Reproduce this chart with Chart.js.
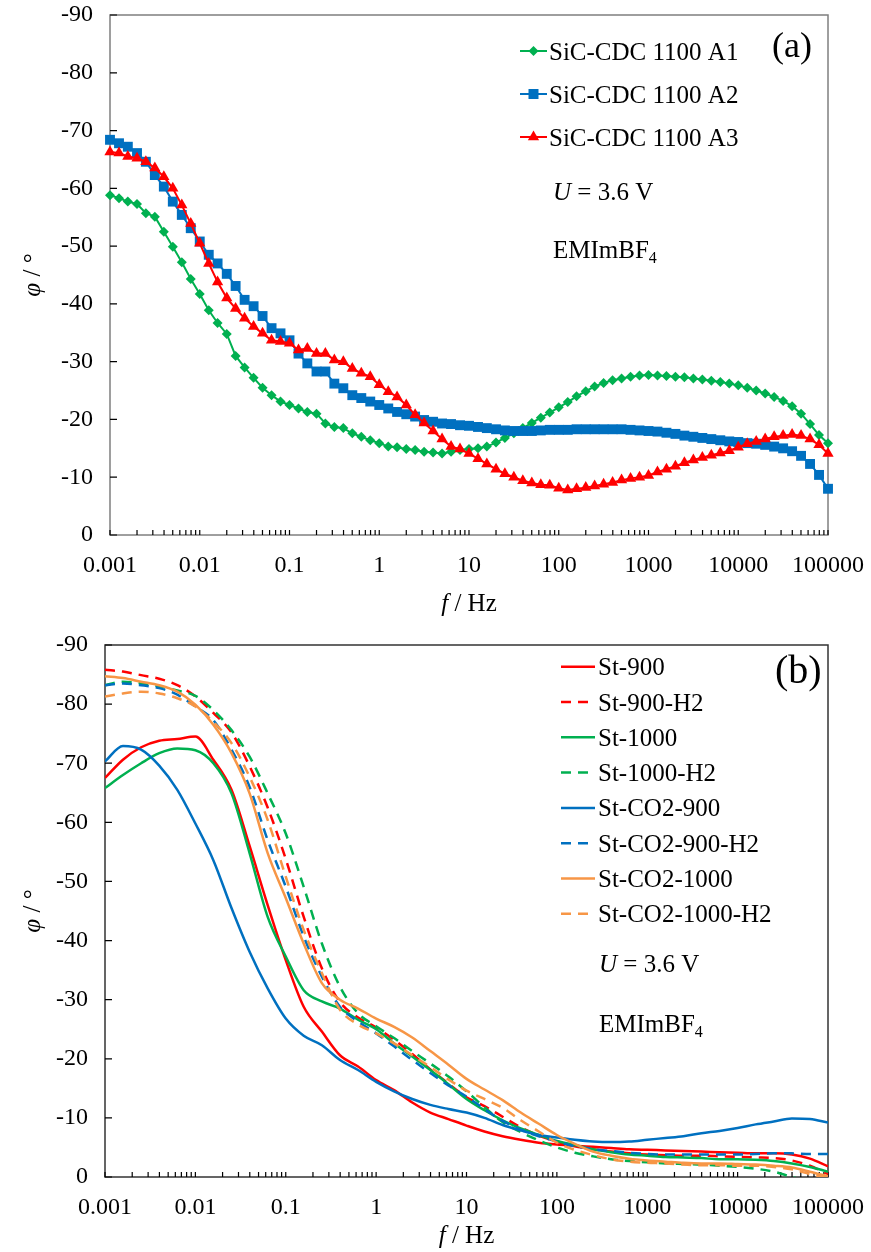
<!DOCTYPE html>
<html><head><meta charset="utf-8">
<script src="https://cdn.jsdelivr.net/npm/chart.js@4.4.1/dist/chart.umd.min.js"></script>
<style>
html,body{margin:0;padding:0;background:#fff;}
#wrap{position:relative;width:871px;height:1252px;}
canvas{display:block;}
</style></head><body>
<div id="wrap">
<canvas id="ca" width="871" height="626"></canvas>
<canvas id="cb" width="871" height="626"></canvas>
</div>
<script>
// ---------- tick labels ----------
const xTickLabels = ['0.001','0.01','0.1','1','10','100','1000','10000','100000'];
const xMinorMantissas = [1,2,3,4,5,6,7,8,9];
const yTickValues = [-90,-80,-70,-60,-50,-40,-30,-20,-10,0];
const yTickLabels = ['-90','-80','-70','-60','-50','-40','-30','-20','-10','0'];

// ---------- chart (a) ----------
const freqA = [0.001,0.00126,0.00158,0.002,0.00251,0.00316,0.00398,0.00501,0.00631,0.00794,
  0.01,0.0126,0.0158,0.02,0.0251,0.0316,0.0398,0.0501,0.0631,0.0794,
  0.1,0.126,0.158,0.2,0.251,0.316,0.398,0.501,0.631,0.794,
  1,1.26,1.58,2,2.51,3.16,3.98,5.01,6.31,7.94,
  10,12.6,15.8,20,25.1,31.6,39.8,50.1,63.1,79.4,
  100,126,158,200,251,316,398,501,631,794,
  1000,1259,1585,1995,2512,3162,3981,5012,6310,7943,
  10000,12589,15849,19953,25119,31623,39811,50119,63096,79433,
  100000];
const sicA1 = [-58.8,-58.3,-57.7,-57.3,-55.7,-55.1,-52.5,-49.9,-47.2,-44.3,
  -41.7,-38.9,-36.7,-34.8,-31.0,-29.0,-27.2,-25.5,-24.2,-23.1,
  -22.5,-21.9,-21.3,-21.0,-19.3,-18.7,-18.5,-17.6,-17.0,-16.4,
  -15.9,-15.3,-15.2,-14.9,-14.7,-14.4,-14.3,-14.1,-14.4,-14.7,
  -14.9,-15.0,-15.3,-16.0,-16.8,-17.6,-18.5,-19.4,-20.3,-21.2,
  -22.1,-23.0,-24.0,-24.9,-25.7,-26.3,-26.8,-27.1,-27.4,-27.6,
  -27.7,-27.6,-27.5,-27.4,-27.3,-27.1,-26.9,-26.7,-26.5,-26.2,
  -25.9,-25.5,-25.0,-24.5,-23.9,-23.2,-22.3,-21.0,-19.2,-17.3,
  -15.9];
const sicA2 = [-68.4,-67.8,-67.2,-66.1,-64.6,-62.3,-60.3,-57.7,-55.4,-53.1,
  -50.8,-48.5,-47.0,-45.2,-43.1,-40.7,-39.6,-37.9,-35.8,-34.9,
  -33.7,-31.4,-29.7,-28.3,-28.3,-26.2,-25.4,-24.2,-23.7,-23.1,
  -22.5,-21.9,-21.3,-20.9,-20.5,-19.9,-19.6,-19.3,-19.2,-19.0,
  -18.9,-18.7,-18.5,-18.3,-18.1,-18.0,-18.0,-18.0,-18.1,-18.2,
  -18.2,-18.2,-18.3,-18.3,-18.3,-18.3,-18.3,-18.3,-18.2,-18.1,
  -18.0,-17.9,-17.7,-17.5,-17.2,-17.0,-16.8,-16.6,-16.4,-16.2,
  -16.1,-15.9,-15.8,-15.6,-15.3,-15.0,-14.5,-13.7,-12.3,-10.4,
  -8.0];
const sicA3 = [-66.3,-66.1,-65.5,-65.2,-64.6,-63.5,-62.0,-60.0,-57.1,-53.9,
  -50.5,-47.0,-43.8,-41.0,-39.2,-37.5,-36.1,-34.9,-33.7,-33.5,
  -33.2,-32.0,-32.3,-31.4,-31.4,-30.3,-30.0,-28.8,-28.0,-27.4,
  -26.0,-24.8,-23.9,-22.5,-20.8,-19.4,-18.0,-16.6,-15.3,-14.9,
  -14.1,-13.2,-12.3,-11.4,-10.6,-10.0,-9.4,-9.0,-8.7,-8.6,
  -8.1,-7.8,-8.0,-8.2,-8.5,-8.8,-9.1,-9.5,-9.8,-10.0,
  -10.3,-10.9,-11.4,-11.9,-12.5,-13.0,-13.4,-13.8,-14.2,-14.6,
  -15.2,-15.8,-16.2,-16.6,-17.0,-17.2,-17.4,-17.2,-16.6,-15.6,
  -14.1];
const seriesNamesA = ['SiC-CDC 1100 A1','SiC-CDC 1100 A2','SiC-CDC 1100 A3'];

// ---------- chart (b) ----------
const freqB = [0.001,0.00158,0.00251,0.00398,0.00631, 0.01,0.0158,0.0251,0.0398,0.0631,
  0.1,0.158,0.251,0.398,0.631, 1,1.58,2.51,3.98,6.31,
  10,15.8,25.1,39.8,63.1, 100,158,251,398,631,
  1000,1585,2512,3981,6310, 10000,15849,25119,39811,63096, 100000];
const st900 = [-67.5,-70.6,-72.7,-73.8,-74.1, -74.5,-70.6,-65.5,-56.0,-46.0,
  -36.7,-28.8,-24.6,-20.6,-18.7, -16.4,-14.7,-12.6,-10.9,-9.8,
  -8.7,-7.7,-6.9,-6.3,-5.8, -5.5,-5.3,-5.1,-4.9,-4.7,
  -4.6,-4.5,-4.4,-4.3,-4.2, -4.1,-4.0,-4.0,-3.8,-3.1, -1.8];
const st900H2 = [-85.8,-85.5,-84.9,-84.3,-83.2, -81.3,-78.5,-75.2,-69.5,-62.5,
  -53.8,-44.0,-35.3,-29.6,-27.0, -25.3,-23.2,-20.8,-18.2,-15.8,
  -13.5,-12.0,-10.2,-8.4,-7.0, -6.0,-5.2,-4.7,-4.3,-4.0,
  -3.8,-3.7,-3.6,-3.6,-3.5, -3.4,-3.3,-3.2,-2.8,-1.9, -0.5];
const st1000 = [-65.8,-68.0,-70.0,-71.7,-72.5, -72.2,-70.0,-64.9,-54.8,-44.0,
  -37.3,-31.6,-29.7,-28.5,-26.6, -25.0,-22.6,-20.4,-18.1,-15.7,
  -13.2,-11.3,-9.6,-8.2,-7.1, -6.1,-5.4,-4.7,-4.2,-3.8,
  -3.6,-3.4,-3.3,-3.2,-3.0, -3.0,-2.9,-2.7,-2.3,-1.7, -0.9];
const st1000H2 = [-83.2,-83.8,-83.5,-83.0,-82.3, -81.4,-79.0,-75.6,-71.1,-64.9,
  -58.1,-49.1,-39.5,-32.2,-27.7, -25.5,-23.5,-21.3,-19.2,-17.0,
  -14.5,-11.8,-9.3,-7.6,-6.2, -5.0,-4.1,-3.5,-3.0,-2.7,
  -2.5,-2.3,-2.2,-2.1,-1.9, -1.7,-1.4,-0.9,0.0,0.8, 1.5];
const stCO2900 = [-70.3,-72.9,-72.3,-69.6,-65.5, -59.8,-53.6,-45.5,-38.1,-31.9,
  -26.8,-23.9,-22.3,-19.8,-18.1, -16.1,-14.5,-13.2,-12.2,-11.5,
  -10.9,-10.0,-8.8,-7.9,-7.1, -6.7,-6.3,-6.0,-5.9,-6.0,
  -6.3,-6.6,-6.9,-7.4,-7.8, -8.3,-8.9,-9.4,-9.9,-9.8, -9.2];
const stCO2900H2 = [-83.2,-83.5,-83.2,-82.7,-81.6, -79.6,-77.3,-72.3,-66.0,-57.0,
  -49.1,-40.7,-33.9,-28.8,-26.3, -24.3,-22.1,-19.8,-17.6,-15.5,
  -13.6,-11.5,-9.5,-8.0,-6.9, -6.0,-5.2,-4.7,-4.4,-4.1,
  -3.9,-3.8,-3.8,-3.8,-3.8, -3.8,-3.9,-4.0,-4.0,-3.9, -3.9];
const stCO21000 = [-84.7,-84.4,-83.8,-83.2,-82.1, -79.9,-76.5,-71.7,-64.9,-54.8,
  -47.2,-39.5,-32.8,-30.0,-28.5, -26.8,-25.4,-23.6,-21.3,-19.0,
  -16.6,-14.8,-13.0,-10.9,-9.0, -7.1,-5.6,-4.3,-3.6,-3.1,
  -2.8,-2.6,-2.4,-2.3,-2.3, -2.2,-2.1,-1.9,-1.6,-0.9, -0.1];
const stCO21000H2 = [-81.3,-81.8,-82.1,-81.8,-81.0, -79.6,-77.0,-73.4,-67.7,-60.4,
  -50.8,-41.8,-34.5,-28.3,-25.8, -24.3,-22.6,-20.6,-18.6,-16.5,
  -14.6,-13.2,-11.7,-9.6,-7.7, -5.8,-4.6,-3.7,-3.0,-2.6,
  -2.4,-2.3,-2.1,-2.0,-2.0, -1.9,-1.9,-1.7,-1.3,-0.5, 0.2];
const seriesNamesB = ['St-900','St-900-H2','St-1000','St-1000-H2','St-CO2-900','St-CO2-900-H2','St-CO2-1000','St-CO2-1000-H2'];

// ---------- styling ----------
const SERIF = '"Liberation Serif", "Times New Roman", serif';
const GREEN = '#00B050', BLUE = '#0070C0', RED = '#FF0000', ORANGE = '#F79646';
const font = (size, italic) => (italic ? 'italic ' : '') + size + 'px ' + SERIF;

function buildLogTicks(scale) {
  const ticks = [];
  xTickLabels.forEach((lab, i) => {
    const dec = Number(lab);
    if (i === xTickLabels.length - 1) { ticks.push({value: dec}); return; }
    xMinorMantissas.forEach(m => ticks.push({value: +(m * dec).toPrecision(6)}));
  });
  scale.ticks = ticks;
}
function xLabel(v) {
  const idx = xTickLabels.findIndex(l => Math.abs(Number(l) - v) < Number(l) * 1e-6);
  return idx >= 0 ? xTickLabels[idx] : '';
}
function yLabel(v) {
  const idx = yTickValues.indexOf(Math.round(v));
  return idx >= 0 ? yTickLabels[idx] : '';
}
function noOverflow(s) { s.paddingLeft = 0; s.paddingRight = 0; s.paddingTop = 0; s.paddingBottom = 0; }

function drawParts(ctx, parts, x, y, align) {
  let total = 0;
  const ws = parts.map(p => { ctx.font = p.f; const w = ctx.measureText(p.t).width; total += w; return w; });
  let cx = align === 'center' ? x - total / 2 : x;
  parts.forEach((p, i) => { ctx.font = p.f; ctx.fillText(p.t, cx, y + (p.dy || 0)); cx += ws[i]; });
}

function marker(ctx, style, x, y, color) {
  ctx.fillStyle = color;
  ctx.beginPath();
  if (style === 'rectRot') { const r = 5; ctx.moveTo(x - r, y); ctx.lineTo(x, y - r); ctx.lineTo(x + r, y); ctx.lineTo(x, y + r); }
  else if (style === 'rect') { const s = 5; ctx.rect(x - s, y - s, 2 * s, 2 * s); }
  else if (style === 'triangle') { const r = 6.5; ctx.moveTo(x, y - r); ctx.lineTo(x + r * 0.866, y + r / 2); ctx.lineTo(x - r * 0.866, y + r / 2); }
  ctx.closePath(); ctx.fill();
}

function decorPlugin(cfg) {
  return {
    id: 'decor',
    beforeDatasetsDraw(chart) {
      const {ctx, chartArea: a, scales: {x, y}} = chart;
      ctx.save();
      ctx.strokeStyle = cfg.frameColor; ctx.lineWidth = cfg.frameWidth;
      ctx.strokeRect(a.left, a.top, a.right - a.left, a.bottom - a.top);
      ctx.strokeStyle = '#000'; ctx.lineWidth = 1.2;
      ctx.beginPath();
      x.ticks.forEach(t => { const px = x.getPixelForValue(t.value); ctx.moveTo(px, a.bottom); ctx.lineTo(px, a.bottom - 5); });
      y.ticks.forEach(t => { const py = y.getPixelForValue(t.value); ctx.moveTo(a.left, py); ctx.lineTo(a.left + 7, py); });
      ctx.stroke();
      ctx.restore();
    },
    afterDraw(chart) {
      const {ctx, chartArea: a} = chart;
      ctx.save();
      ctx.fillStyle = '#000';
      ctx.textBaseline = 'alphabetic';
      drawParts(ctx, [{t: 'f', f: font(25, true)}, {t: ' / Hz', f: font(25)}], (a.left + a.right) / 2, cfg.xTitleY, 'center');
      ctx.save();
      ctx.translate(cfg.yTitleX, (a.top + a.bottom) / 2);
      ctx.rotate(-Math.PI / 2);
      drawParts(ctx, [{t: 'φ', f: font(25, true)}, {t: ' / °', f: font(25)}], 0, 8, 'center');
      ctx.restore();
      const ds = chart.data.datasets;
      cfg.legendOrder.forEach((di, row) => {
        const d = ds[di];
        const ly = cfg.legendY0 + row * cfg.legendDY;
        ctx.save();
        ctx.strokeStyle = d.borderColor; ctx.lineWidth = d.borderWidth;
        ctx.setLineDash(d.borderDash || []);
        ctx.beginPath(); ctx.moveTo(cfg.legendX0, ly); ctx.lineTo(cfg.legendX1, ly); ctx.stroke();
        ctx.restore();
        if (d.pointRadius > 0) marker(ctx, d.pointStyle, (cfg.legendX0 + cfg.legendX1) / 2, ly, d.borderColor);
        ctx.fillStyle = '#000';
        drawParts(ctx, [{t: d.label, f: font(25)}], cfg.legendTextX, ly + 8.5, 'left');
      });
      drawParts(ctx, [{t: cfg.panel, f: font(cfg.panelSize)}], cfg.panelX, cfg.panelY, 'left');
      drawParts(ctx, [{t: 'U', f: font(25, true)}, {t: ' = 3.6 V', f: font(25)}], cfg.noteX, cfg.uY, 'left');
      drawParts(ctx, [{t: 'EMImBF', f: font(25)}, {t: '4', f: font(16), dy: 5}], cfg.noteX, cfg.eY, 'left');
      ctx.restore();
    }
  };
}

function scalesFor(yWidth, xHeight) {
  return {
    x: {
      type: 'logarithmic', min: 0.001, max: 100000,
      afterBuildTicks: buildLogTicks,
      afterFit: s => { s.height = xHeight; noOverflow(s); },
      grid: {display: false, drawTicks: false}, border: {display: false},
      ticks: {autoSkip: false, maxRotation: 0, minRotation: 0, padding: 16, color: '#000',
        font: {family: SERIF, size: 24}, callback: v => xLabel(v)}
    },
    y: {
      type: 'linear', min: -90, max: 0, reverse: true,
      afterFit: s => { s.width = yWidth; noOverflow(s); },
      grid: {display: false, drawTicks: false}, border: {display: false},
      ticks: {stepSize: 10, padding: 17, color: '#000', font: {family: SERIF, size: 24}, callback: v => yLabel(v)}
    }
  };
}

const toXY = (fr, arr) => fr.map((f, i) => ({x: f, y: arr[i]}));

const mkA = (name, vals, color, style, radius, order) => ({
  label: name, data: toXY(freqA, vals), borderColor: color, backgroundColor: color,
  borderWidth: 2, pointStyle: style, pointRadius: radius, pointBorderWidth: 0,
  pointBackgroundColor: color, pointHoverRadius: radius, clip: false, tension: 0, order: order
});
new Chart(document.getElementById('ca'), {
  type: 'line',
  data: {datasets: [
    mkA(seriesNamesA[0], sicA1, GREEN, 'rectRot', 5, 3),
    mkA(seriesNamesA[1], sicA2, BLUE, 'rect', 7, 2),
    mkA(seriesNamesA[2], sicA3, RED, 'triangle', 6.5, 1)
  ]},
  options: {
    responsive: false, animation: false, devicePixelRatio: 1, events: [],
    layout: {padding: {top: 15, right: 43, left: 0, bottom: 0}},
    scales: scalesFor(110, 91),
    plugins: {legend: {display: false}, tooltip: {enabled: false}}
  },
  plugins: [decorPlugin({
    frameColor: '#7f7f7f', frameWidth: 1.5, xTitleY: 611, yTitleX: 32,
    legendOrder: [0, 1, 2], legendY0: 51, legendDY: 43, legendX0: 520, legendX1: 547, legendTextX: 549,
    panel: '(a)', panelSize: 36, panelX: 772, panelY: 57, noteX: 553, uY: 200, eY: 258
  })]
});

const mkB = (name, vals, color, dashed, order) => ({
  label: name, data: toXY(freqB, vals), borderColor: color, backgroundColor: color,
  borderWidth: 2.5, borderDash: dashed ? [10, 7] : [], pointRadius: 0, pointHoverRadius: 0,
  cubicInterpolationMode: 'monotone', order: order
});
new Chart(document.getElementById('cb'), {
  type: 'line',
  data: {datasets: [
    mkB(seriesNamesB[0], st900, RED, false, 8),
    mkB(seriesNamesB[1], st900H2, RED, true, 7),
    mkB(seriesNamesB[2], st1000, GREEN, false, 6),
    mkB(seriesNamesB[3], st1000H2, GREEN, true, 5),
    mkB(seriesNamesB[4], stCO2900, BLUE, false, 4),
    mkB(seriesNamesB[5], stCO2900H2, BLUE, true, 3),
    mkB(seriesNamesB[6], stCO21000, ORANGE, false, 2),
    mkB(seriesNamesB[7], stCO21000H2, ORANGE, true, 1)
  ]},
  options: {
    responsive: false, animation: false, devicePixelRatio: 1, events: [],
    layout: {padding: {top: 19, right: 43, left: 0, bottom: 0}},
    scales: scalesFor(105, 75),
    plugins: {legend: {display: false}, tooltip: {enabled: false}}
  },
  plugins: [decorPlugin({
    frameColor: '#333333', frameWidth: 1.5, xTitleY: 617, yTitleX: 32,
    legendOrder: [0, 1, 2, 3, 4, 5, 6, 7], legendY0: 40.7, legendDY: 35.3, legendX0: 561, legendX1: 595, legendTextX: 598,
    panel: '(b)', panelSize: 40, panelX: 775, panelY: 57, noteX: 599, uY: 346, eY: 406
  })]
});
</script>
</body></html>
